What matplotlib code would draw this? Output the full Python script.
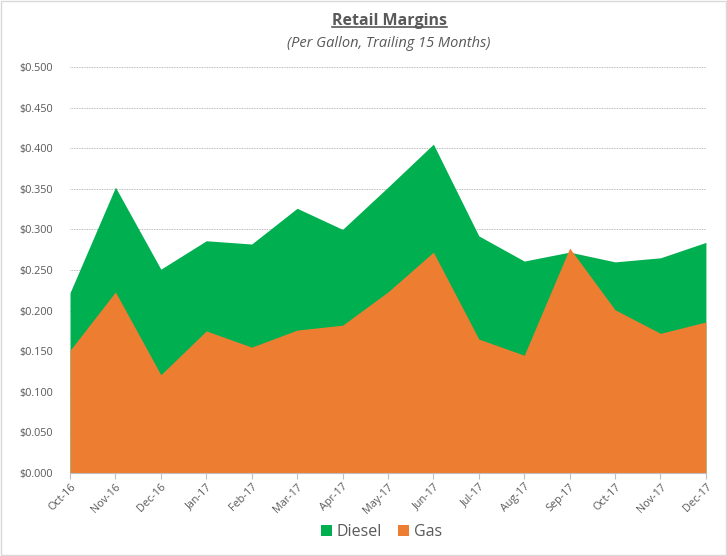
import numpy as np
import matplotlib
matplotlib.use('Agg')
from matplotlib import pyplot as plt
from matplotlib.lines import Line2D
from matplotlib.patches import Rectangle

months = ['Oct-16', 'Nov-16', 'Dec-16', 'Jan-17', 'Feb-17', 'Mar-17', 'Apr-17', 'May-17',
          'Jun-17', 'Jul-17', 'Aug-17', 'Sep-17', 'Oct-17', 'Nov-17', 'Dec-17']
diesel = [0.222, 0.352, 0.251, 0.286, 0.282, 0.326, 0.300, 0.352,
          0.405, 0.292, 0.261, 0.272, 0.260, 0.265, 0.284]
gas = [0.151, 0.223, 0.121, 0.175, 0.155, 0.176, 0.182, 0.223,
       0.272, 0.165, 0.145, 0.277, 0.201, 0.172, 0.186]
yticks = np.arange(0, 0.501, 0.05)

plt.rcParams['font.family'] = ['Open Sans', 'DejaVu Sans']
txt = '#595959'

fig = plt.figure(figsize=(7.27, 5.56), dpi=100)
ax = fig.add_axes([0.0963, 0.1493, 0.8747, 0.7302])

x = np.arange(len(months))
ax.fill_between(x, 0, diesel, color='#00B050', linewidth=0, label='Diesel', zorder=2)
ax.fill_between(x, 0, gas, color='#ED7D31', linewidth=0, label='Gas', zorder=3)

ax.set_xlim(0, len(months) - 1)
ax.set_ylim(0, 0.5)
ax.set_yticks(yticks)
ax.set_yticklabels(['${:.3f}'.format(v) for v in yticks], fontsize=7.8, color=txt)
ax.set_xticks(x)
ax.set_xticklabels(months, rotation=45, ha='right', rotation_mode='anchor', fontsize=7.8, color=txt)
ax.tick_params(axis='y', length=0, pad=12)
ax.tick_params(axis='x', length=4, color='#bfbfbf', pad=2)
ax.grid(axis='y', linestyle=(0, (1, 1)), color='#a6a6a6', linewidth=0.6, zorder=1)
ax.set_axisbelow(True)
for s in ['top', 'right', 'left']:
    ax.spines[s].set_visible(False)
ax.spines['bottom'].set_color('#bfbfbf')
ax.spines['bottom'].set_zorder(4)

t = fig.text(0.536, 0.963, 'Retail Margins', ha='center', va='center',
             fontsize=11.5, fontweight='bold', color=txt)
fig.text(0.534, 0.921, '(Per Gallon, Trailing 15 Months)', ha='center', va='center',
         fontsize=10.5, style='italic', color=txt)

leg = fig.legend(loc='center', bbox_to_anchor=(0.525, 0.043), ncol=2, frameon=False,
                 fontsize=11.5, handlelength=0.7, handleheight=0.7, handletextpad=0.3,
                 columnspacing=1.0, labelcolor=txt)

# underline the title
fig.canvas.draw()
bb = t.get_window_extent().transformed(fig.transFigure.inverted())
fig.add_artist(Line2D([bb.x0, bb.x1], [bb.y0 + 0.002, bb.y0 + 0.002], color=txt, linewidth=1.2))

# light border round the chart
fig.add_artist(Rectangle((0.001, 0.001), 0.997, 0.997, transform=fig.transFigure,
                         fill=False, edgecolor='#d9d9d9', linewidth=1))

fig.savefig('out.png', dpi=100)
